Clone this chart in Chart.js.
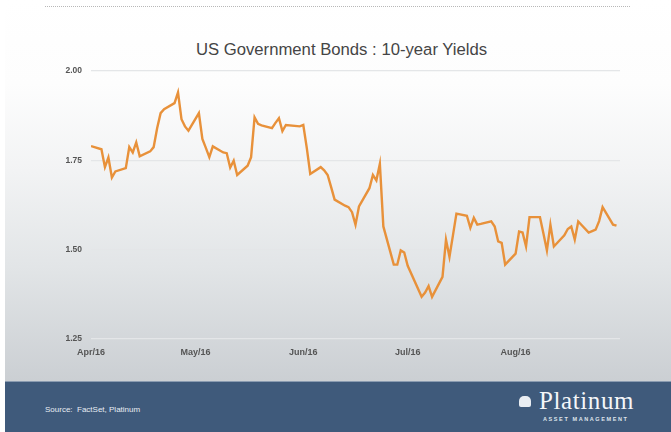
<!DOCTYPE html>
<html>
<head>
<meta charset="utf-8">
<script src="https://cdn.jsdelivr.net/npm/chart.js@4.4.1/dist/chart.umd.min.js"></script>
<style>
  html, body { margin: 0; padding: 0; }
  body { width: 671px; height: 432px; position: relative; overflow: hidden; font-family: "Liberation Sans", Arial, sans-serif; background: #fff; }
  .panel { position: absolute; left: 5px; top: 0; width: 666px; height: 381px;
    background: linear-gradient(to bottom, #ffffff 0%, #fdfdfd 22%, #f2f3f4 45%, #e2e5e7 70%, #cbcfd3 100%); }
  .dots { position: absolute; left: 45px; top: 6px; width: 585px; border-top: 1px dotted #b8b8b8; }
  .title { position: absolute; left: 0; width: 683px; top: 40px; text-align: center; font-size: 16.7px; color: #454545; }
  .wrap { position: absolute; left: 0; top: 0; width: 671px; height: 380px; }
  .footer { position: absolute; left: 5px; top: 381px; width: 666px; height: 51px; background: #3f5a7b; border-top: 1px solid #8a9bb0; box-sizing: border-box; }
  .source { position: absolute; left: 45px; top: 405px; font-size: 8px; color: #e8edf3; }
  .logo { position: absolute; left: 539px; top: 387px; font-family: "Liberation Serif", "DejaVu Serif", serif; font-size: 25px; color: #f4f6f9; letter-spacing: 0.6px; }
  .sub { position: absolute; left: 543px; top: 416px; font-size: 5.5px; font-weight: bold; color: #dfe5ec; letter-spacing: 1.6px; }
  .icon { position: absolute; left: 519px; top: 396px; width: 12px; height: 11px; background: #e9edf2; border-radius: 5px 5px 2px 2px; }
</style>
</head>
<body>
<div class="panel"></div>
<div class="dots"></div>
<div class="title">US Government Bonds : 10-year Yields</div>
<div class="wrap"><canvas id="c" width="671" height="380"></canvas></div>
<div class="footer"></div>
<div class="source">Source:&nbsp; FactSet, Platinum</div>
<div class="icon"></div>
<div class="logo">Platinum</div>
<div class="sub">ASSET MANAGEMENT</div>
<script>
const dates = [
  '2016-04-01','2016-04-04','2016-04-05','2016-04-06','2016-04-07','2016-04-08',
  '2016-04-11','2016-04-12','2016-04-13','2016-04-14','2016-04-15',
  '2016-04-18','2016-04-19','2016-04-20','2016-04-21','2016-04-22',
  '2016-04-25','2016-04-26','2016-04-27','2016-04-28','2016-04-29',
  '2016-05-02','2016-05-03','2016-05-04','2016-05-05','2016-05-06',
  '2016-05-09','2016-05-10','2016-05-11','2016-05-12','2016-05-13',
  '2016-05-16','2016-05-17','2016-05-18','2016-05-19','2016-05-20',
  '2016-05-23','2016-05-24','2016-05-25','2016-05-26','2016-05-27',
  '2016-05-31','2016-06-01','2016-06-02','2016-06-03',
  '2016-06-06','2016-06-07','2016-06-08','2016-06-09','2016-06-10',
  '2016-06-13','2016-06-14','2016-06-15','2016-06-16','2016-06-17',
  '2016-06-20','2016-06-21','2016-06-22','2016-06-23','2016-06-24',
  '2016-06-27','2016-06-28','2016-06-29','2016-06-30','2016-07-01',
  '2016-07-05','2016-07-06','2016-07-07','2016-07-08',
  '2016-07-11','2016-07-12','2016-07-13','2016-07-14','2016-07-15',
  '2016-07-18','2016-07-19','2016-07-20','2016-07-21','2016-07-22',
  '2016-07-25','2016-07-26','2016-07-27','2016-07-28','2016-07-29',
  '2016-08-01','2016-08-02','2016-08-03','2016-08-04','2016-08-05',
  '2016-08-08','2016-08-09','2016-08-10','2016-08-11','2016-08-12',
  '2016-08-15','2016-08-16','2016-08-17','2016-08-18','2016-08-19',
  '2016-08-22','2016-08-23','2016-08-24','2016-08-25','2016-08-26',
  '2016-08-29','2016-08-30'
];
const yields = [
  1.790,1.781,1.731,1.758,1.702,1.719,
  1.728,1.787,1.772,1.800,1.761,
  1.775,1.787,1.840,1.882,1.893,
  1.910,1.940,1.865,1.845,1.833,
  1.882,1.810,1.785,1.759,1.789,
  1.772,1.770,1.730,1.749,1.709,
  1.735,1.759,1.870,1.852,1.848,
  1.840,1.855,1.868,1.832,1.849,
  1.845,1.849,1.785,1.712,
  1.731,1.722,1.709,1.675,1.640,
  1.623,1.619,1.605,1.570,1.621,
  1.672,1.709,1.694,1.740,1.565,
  1.458,1.458,1.498,1.492,1.455,
  1.368,1.380,1.398,1.368,
  1.424,1.528,1.480,1.540,1.601,
  1.595,1.561,1.589,1.570,1.572,
  1.579,1.565,1.523,1.519,1.458,
  1.489,1.551,1.548,1.509,1.591,
  1.591,1.545,1.498,1.570,1.509,
  1.540,1.558,1.565,1.528,1.579,
  1.548,1.552,1.556,1.580,1.619,
  1.570,1.567
];
const monthStarts = ['2016-04-01','2016-05-01','2016-06-01','2016-07-01','2016-08-01'];
const monthLabels = ['Apr/16','May/16','Jun/16','Jul/16','Aug/16'];
const yTicks = [1.25, 1.50, 1.75, 2.00];

const day0 = Date.parse('2016-04-01');
const toDay = d => Math.round((Date.parse(d) - day0) / 864e5);
const tickDays = monthStarts.map(toDay);
const points = dates.map((d, i) => ({ x: toDay(d), y: yields[i] }));

new Chart(document.getElementById('c'), {
  type: 'line',
  data: { datasets: [{
    data: points,
    borderColor: '#e8913a',
    borderWidth: 2.4,
    pointRadius: 0,
    tension: 0,
    fill: false
  }] },
  options: {
    responsive: false,
    animation: false,
    layout: { padding: { top: 71, right: 51, left: 0, bottom: 0 } },
    plugins: { legend: { display: false }, tooltip: { enabled: false } },
    scales: {
      x: {
        type: 'linear', min: 0, max: 152,
        afterFit: s => { s.height = 41; },
        afterBuildTicks: s => { s.ticks = tickDays.map(v => ({ value: v })); },
        ticks: {
          autoSkip: false, maxRotation: 0, padding: 0,
          color: '#555', font: { family: 'Liberation Sans', size: 9, weight: 'bold' },
          callback: v => monthLabels[tickDays.indexOf(v)]
        },
        grid: { display: false },
        border: { display: false }
      },
      y: {
        min: 1.25, max: 2.00,
        afterFit: s => { s.width = 91; },
        afterBuildTicks: s => { s.ticks = yTicks.map(v => ({ value: v })); },
        ticks: {
          padding: 9,
          color: '#555', font: { family: 'Liberation Sans', size: 8.5, weight: 'bold' },
          callback: v => v.toFixed(2)
        },
        grid: { color: '#e4e6e8', lineWidth: 1.2, drawTicks: false },
        border: { display: false }
      }
    }
  }
});
</script>
</body>
</html>
